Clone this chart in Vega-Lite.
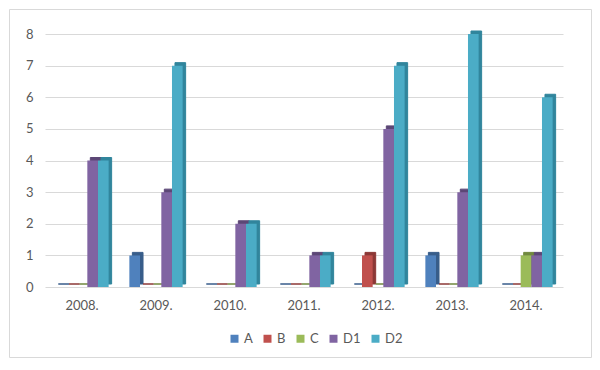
{
  "$schema": "https://vega.github.io/schema/vega-lite/v6.json",
  "width": 582,
  "height": 348,
  "autosize": {"type": "none"},
  "padding": {"left": 9, "top": 9, "right": 9, "bottom": 13},
  "config": {
    "view": {"stroke": "#d9d9d9", "strokeWidth": 1},
    "font": "Lato",
    "axis": {"labelFont": "Lato", "labelColor": "#595959", "labelFontSize": 13}
  },
  "data": {
    "values": [
      {"year": "2008.", "series": "A", "value": 0},
      {"year": "2008.", "series": "B", "value": 0},
      {"year": "2008.", "series": "C", "value": 0},
      {"year": "2008.", "series": "D1", "value": 4},
      {"year": "2008.", "series": "D2", "value": 4},
      {"year": "2009.", "series": "A", "value": 1},
      {"year": "2009.", "series": "B", "value": 0},
      {"year": "2009.", "series": "C", "value": 0},
      {"year": "2009.", "series": "D1", "value": 3},
      {"year": "2009.", "series": "D2", "value": 7},
      {"year": "2010.", "series": "A", "value": 0},
      {"year": "2010.", "series": "B", "value": 0},
      {"year": "2010.", "series": "C", "value": 0},
      {"year": "2010.", "series": "D1", "value": 2},
      {"year": "2010.", "series": "D2", "value": 2},
      {"year": "2011.", "series": "A", "value": 0},
      {"year": "2011.", "series": "B", "value": 0},
      {"year": "2011.", "series": "C", "value": 0},
      {"year": "2011.", "series": "D1", "value": 1},
      {"year": "2011.", "series": "D2", "value": 1},
      {"year": "2012.", "series": "A", "value": 0},
      {"year": "2012.", "series": "B", "value": 1},
      {"year": "2012.", "series": "C", "value": 0},
      {"year": "2012.", "series": "D1", "value": 5},
      {"year": "2012.", "series": "D2", "value": 7},
      {"year": "2013.", "series": "A", "value": 1},
      {"year": "2013.", "series": "B", "value": 0},
      {"year": "2013.", "series": "C", "value": 0},
      {"year": "2013.", "series": "D1", "value": 3},
      {"year": "2013.", "series": "D2", "value": 8},
      {"year": "2014.", "series": "A", "value": 0},
      {"year": "2014.", "series": "B", "value": 0},
      {"year": "2014.", "series": "C", "value": 1},
      {"year": "2014.", "series": "D1", "value": 1},
      {"year": "2014.", "series": "D2", "value": 6}
    ]
  },
  "encoding": {
    "x": {
      "field": "year", "type": "nominal", "title": null,
      "scale": {"range": [36, 554], "paddingInner": 0.28, "paddingOuter": 0.14},
      "axis": {"orient": "bottom", "offset": -70, "domain": false, "ticks": false, "labelAngle": 0, "labelPadding": 12}
    },
    "y": {
      "field": "value", "type": "quantitative", "title": null,
      "scale": {"domain": [0, 8], "range": [278, 25], "nice": false},
      "axis": {"orient": "left", "offset": -27, "domain": false, "ticks": false, "labelPadding": 3, "values": [0, 1, 2, 3, 4, 5, 6, 7, 8], "labelOverlap": false, "gridColor": "#d9d9d9"}
    }
  },
  "layer": [
    {
      "mark": {"type": "bar", "yOffset": -3, "strokeWidth": 1},
      "encoding": {
        "xOffset": {"field": "series", "type": "nominal", "sort": ["A", "B", "C", "D1", "D2"], "scale": {"range": [3, 56.28]}},
        "color": {
          "field": "series", "type": "nominal", "legend": null,
          "scale": {"domain": ["A", "B", "C", "D1", "D2"], "range": ["#385d8a", "#8c3836", "#71893f", "#5c4776", "#31859c"]}
        },
        "stroke": {
          "field": "series", "type": "nominal", "legend": null,
          "scale": {"domain": ["A", "B", "C", "D1", "D2"], "range": ["#385d8a", "#8c3836", "#71893f", "#5c4776", "#31859c"]}
        }
      }
    },
    {
      "mark": {"type": "bar", "strokeWidth": 1, "strokeOpacity": 1},
      "encoding": {
        "xOffset": {"field": "series", "type": "nominal", "sort": ["A", "B", "C", "D1", "D2"], "scale": {"range": [0, 53.28]}},
        "color": {
          "field": "series", "type": "nominal", "title": null,
          "scale": {"domain": ["A", "B", "C", "D1", "D2"], "range": ["#4f81bd", "#c0504d", "#9bbb59", "#8064a2", "#4bacc6"]},
          "legend": {
            "orient": "none", "legendX": 219, "legendY": 323, "direction": "horizontal",
            "symbolType": "square", "symbolSize": 64, "symbolStrokeWidth": 0,
            "labelFont": "Lato", "labelFontSize": 13, "labelColor": "#595959",
            "columnPadding": 8, "labelOffset": 3
          }
        }
      }
    }
  ],
  "resolve": {"scale": {"color": "independent", "stroke": "independent", "xOffset": "independent"}}
}
